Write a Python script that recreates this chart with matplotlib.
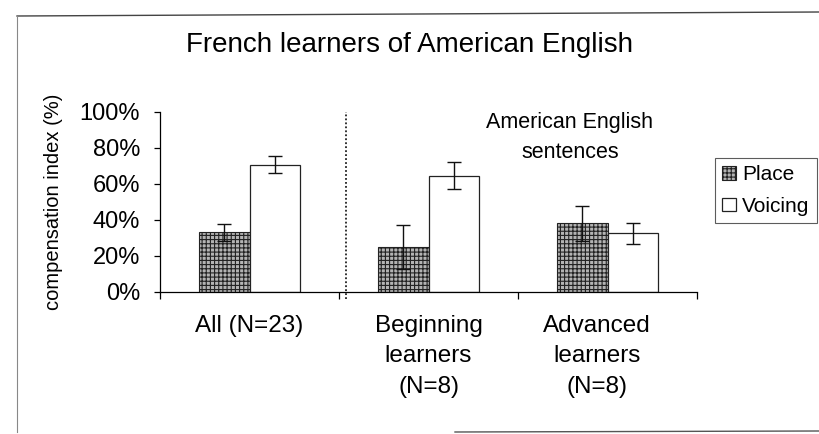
import matplotlib
matplotlib.use("Agg")
import matplotlib.pyplot as plt
from matplotlib.lines import Line2D
import numpy as np

plt.rcParams['font.family'] = ['Liberation Sans', 'DejaVu Sans']
plt.rcParams['hatch.linewidth'] = 0.8
plt.rcParams['hatch.color'] = '#333333'

categories = ["All (N=23)", "Beginning\nlearners\n(N=8)", "Advanced\nlearners\n(N=8)"]
place = [33, 25, 38]
place_err = [4.5, 12, 9.5]
voicing = [70.5, 64.5, 32.5]
voicing_err = [4.7, 7.7, 6]
yticks = [0, 20, 40, 60, 80, 100]
ytick_labels = ["0%", "20%", "40%", "60%", "80%", "100%"]

W, H = 819, 434
fig = plt.figure(figsize=(W / 100, H / 100), dpi=100)
ax = fig.add_axes([160 / W, 1 - 292 / H, (697 - 160) / W, (292 - 111.5) / H])

x = np.arange(len(categories))
bw = 0.282
ax.bar(x - bw / 2, place, bw, facecolor='#b4b4b4', edgecolor='#222222',
       hatch='++++', linewidth=0.8, label='Place', zorder=2)
ax.bar(x + bw / 2, voicing, bw, facecolor='white', edgecolor='#222222',
       linewidth=0.9, label='Voicing', zorder=2)
ax.errorbar(x - bw / 2, place, yerr=place_err, fmt='none', ecolor='#111111',
            elinewidth=1.0, capsize=4.7, capthick=1.0, zorder=3)
ax.errorbar(x + bw / 2, voicing, yerr=voicing_err, fmt='none', ecolor='#111111',
            elinewidth=1.0, capsize=4.7, capthick=1.0, zorder=3)

ax.set_xlim(-0.5, 2.5)
ax.set_ylim(0, 100)
ax.set_yticks(yticks)
ax.set_yticklabels(ytick_labels, fontsize=17)
ax.set_xticks([-0.5, 0.5, 1.5, 2.5])
ax.set_xticklabels([])
ax.tick_params(axis='x', direction='out', length=5, width=0.9)
ax.tick_params(axis='y', direction='out', length=4.3, width=0.9, pad=10)
label_x = [0, 1, 1.94]
for lx, c in zip(label_x, categories):
    ax.text(lx, -12.5, c, ha='center', va='top', fontsize=17.5, linespacing=1.5)
for s in ['top', 'right']:
    ax.spines[s].set_visible(False)
ax.spines['left'].set_linewidth(0.9)
ax.spines['bottom'].set_linewidth(0.9)

fig.text(54 / W, 1 - 202 / H, "compensation index (%)", rotation=90,
         ha='center', va='center', fontsize=14.5)

# dotted separator
ax.plot([0.54, 0.54], [-4, 100], color='#222222', linestyle=(0, (1, 1.2)),
        linewidth=1.3, clip_on=False, zorder=4)

ax.text(1.79, 85.5, "American English\nsentences", ha='center', va='center',
        fontsize=15.5, linespacing=1.55)

fig.text(0.5, 1 - 45 / H, "French learners of American English", ha='center',
         va='center', fontsize=20)

leg = fig.legend(loc='upper left', bbox_to_anchor=(715 / W, 1 - 158 / H),
                 fontsize=15, frameon=True, fancybox=False, handlelength=0.65,
                 handleheight=0.65, handletextpad=0.3, borderpad=0.35,
                 labelspacing=0.6, borderaxespad=0)
leg.get_frame().set_edgecolor('#333333')
leg.get_frame().set_linewidth(0.8)

# outer frame (partial, as scanned)
fig.add_artist(Line2D([17 / W, 1.0], [1 - 16 / H, 1 - 12 / H], color='#444444', lw=1.0))
fig.add_artist(Line2D([17 / W, 17 / W], [1 - 16 / H, 1 - 432 / H], color='#888888', lw=0.8))
fig.add_artist(Line2D([455 / W, 1.0], [1 - 432 / H, 1 - 431 / H], color='#555555', lw=1.0))

fig.savefig("out.png", dpi=100)
